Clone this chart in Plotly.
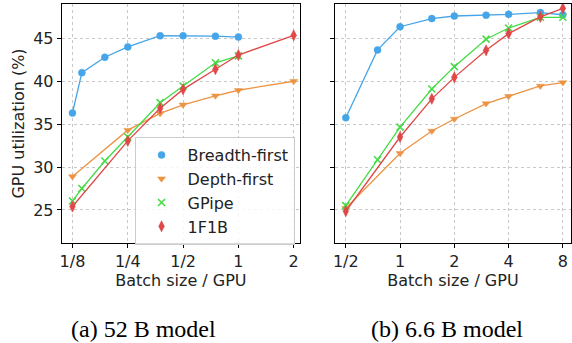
import math
import plotly.graph_objects as go

# ---------------- data ----------------
# (a) 52 B model
a_bf_x = [1/8, 9/64, 3/16, 1/4, 3/8, 1/2, 3/4, 1]
a_bf_y = [36.3, 41.0, 42.8, 44.0, 45.3, 45.3, 45.25, 45.15]
a_df_x = [1/8, 1/4, 3/8, 1/2, 3/4, 1, 2]
a_df_y = [28.9, 34.3, 36.25, 37.25, 38.3, 38.95, 40.0]
a_gp_x = [1/8, 9/64, 3/16, 1/4, 3/8, 1/2, 3/4, 1]
a_gp_y = [26.05, 27.5, 30.7, 33.5, 37.5, 39.45, 42.15, 42.95]
a_fb_x = [1/8, 1/4, 3/8, 1/2, 3/4, 1, 2]
a_fb_y = [25.4, 33.05, 36.85, 39.05, 41.4, 43.05, 45.35]

# (b) 6.6 B model
b_bf_x = [1/2, 3/4, 1, 3/2, 2, 3, 4, 6, 8]
b_bf_y = [35.75, 43.65, 46.35, 47.3, 47.6, 47.7, 47.8, 48.0, 47.75]
b_df_x = [1/2, 1, 3/2, 2, 3, 4, 6, 8]
b_df_y = [25.2, 31.6, 34.2, 35.6, 37.4, 38.25, 39.45, 39.85]
b_gp_x = [1/2, 3/4, 1, 3/2, 2, 3, 4, 6, 8]
b_gp_y = [25.5, 30.85, 34.65, 39.1, 41.7, 44.9, 46.2, 47.45, 47.45]
b_fb_x = [1/2, 1, 3/2, 2, 3, 4, 6, 8]
b_fb_y = [24.85, 33.5, 37.95, 40.45, 43.6, 45.55, 47.5, 48.5]

series_names = ["Breadth-first", "Depth-first", "GPipe", "1F1B"]
a_tickvals = [1/8, 1/4, 1/2, 1, 2]
a_ticktext = ["1/8", "1/4", "1/2", "1", "2"]
b_tickvals = [1/2, 1, 2, 4, 8]
b_ticktext = ["1/2", "1", "2", "4", "8"]
y_tickvals = [25, 30, 35, 40, 45]
captions = ["(a) 52 B model", "(b) 6.6 B model"]

# ---------------- style ----------------
colors = ["#45a5e8", "#ec9443", "#45dc45", "#e04747"]
symbols = ["circle", "triangle-down", "x-thin-open", "diamond-tall"]
msizes = [7, 7, 7, 8]
W, H = 572, 343
FONT = "DejaVu Sans"
FS = 16

def marker(i):
    return dict(symbol=symbols[i], size=msizes[i], color=colors[i],
                line=dict(color=colors[i], width=1.6 if i == 2 else 0.5))

fig = go.Figure()
data_a = [(a_bf_x, a_bf_y), (a_df_x, a_df_y), (a_gp_x, a_gp_y), (a_fb_x, a_fb_y)]
data_b = [(b_bf_x, b_bf_y), (b_df_x, b_df_y), (b_gp_x, b_gp_y), (b_fb_x, b_fb_y)]

for i, (xs, ys) in enumerate(data_a):
    fig.add_trace(go.Scatter(
        x=xs, y=ys, mode="lines+markers", name=series_names[i],
        legendgroup=f"g{i}", showlegend=False,
        line=dict(color=colors[i], width=1.3), marker=marker(i),
        xaxis="x", yaxis="y"))
for i, (xs, ys) in enumerate(data_b):
    fig.add_trace(go.Scatter(
        x=xs, y=ys, mode="lines+markers", name=series_names[i],
        legendgroup=f"g{i}", showlegend=False,
        line=dict(color=colors[i], width=1.3), marker=marker(i),
        xaxis="x2", yaxis="y2"))
# marker-only legend entries
for i in range(4):
    fig.add_trace(go.Scatter(
        x=[None], y=[None], mode="markers", name=series_names[i],
        legendgroup=f"g{i}", showlegend=True, marker=marker(i),
        xaxis="x", yaxis="y"))

def px(x):
    return x / W

def py(y):
    return 1 - y / H

lg2 = math.log10(2)
axis_common = dict(
    type="log", showline=True, linecolor="black", linewidth=1.2, mirror=True,
    ticks="outside", ticklen=4, tickwidth=1, tickcolor="black",
    showgrid=True, gridcolor="#c8c8c8", griddash="dot", gridwidth=1,
    zeroline=False, tickfont=dict(family=FONT, size=FS, color="#222"),
)
title_font = dict(family=FONT, size=FS, color="#222")
fig.update_layout(
    width=W, height=H, margin=dict(l=0, r=0, t=0, b=0),
    paper_bgcolor="white", plot_bgcolor="white",
    xaxis=dict(axis_common, domain=[px(60), px(299)],
               range=[-3.193 * lg2, 1.113 * lg2],
               tickvals=a_tickvals, ticktext=a_ticktext,
               title=dict(text="Batch size / GPU", standoff=4, font=title_font),
               anchor="y"),
    xaxis2=dict(axis_common, domain=[px(334), px(571)],
                range=[-1.202 * lg2, 3.15 * lg2],
                tickvals=b_tickvals, ticktext=b_ticktext,
                title=dict(text="Batch size / GPU", standoff=4, font=title_font),
                anchor="y2"),
    yaxis=dict(axis_common, type="linear", domain=[py(243), py(4)],
               range=[21.15, 49.0], tickvals=y_tickvals,
               title=dict(text="GPU utilization (%)", standoff=4, font=title_font),
               anchor="x"),
    yaxis2=dict(axis_common, type="linear", domain=[py(243), py(4)],
                range=[21.15, 49.0], tickvals=y_tickvals, showticklabels=False,
                matches="y", anchor="x2"),
    legend=dict(x=px(133), y=py(137), xanchor="left", yanchor="top",
                bgcolor="rgba(255,255,255,0.85)", bordercolor="#cccccc", borderwidth=1,
                font=dict(family=FONT, size=FS, color="#222"),
                tracegroupgap=0, itemwidth=42),
    showlegend=True,
)

for txt, cx in zip(captions, [142, 447]):
    fig.add_annotation(text=txt, x=px(cx), y=py(329), xref="paper", yref="paper",
                       xanchor="center", yanchor="middle", showarrow=False,
                       font=dict(family="Liberation Serif", size=24, color="black"))

fig.write_html("out.html", config={"displayModeBar": False},
               post_script="document.body.style.margin='0';")
